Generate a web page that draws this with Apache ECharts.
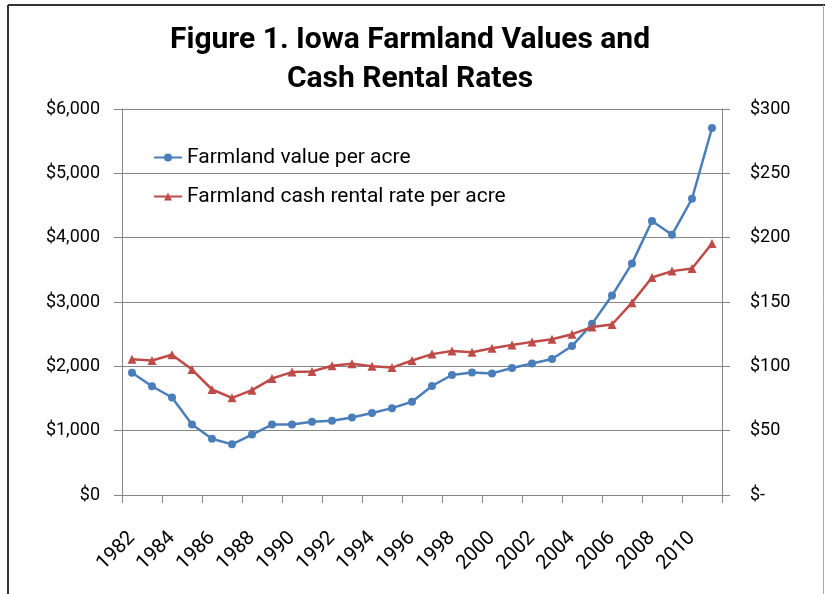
<!DOCTYPE html>
<html>
<head>
<meta charset="utf-8">
<script src="https://cdn.jsdelivr.net/npm/echarts@6/dist/echarts.min.js"></script>
<style>
  html, body { margin: 0; padding: 0; background: #fff; }
  #chart { width: 825px; height: 594px; }
</style>
</head>
<body>
<div id="chart"></div>
<script>
  // Iowa farmland values ($/acre) and cash rents ($/acre), 1982-2011
  const years = ['1982', '1983', '1984', '1985', '1986', '1987', '1988', '1989', '1990', '1991',
    '1992', '1993', '1994', '1995', '1996', '1997', '1998', '1999', '2000', '2001',
    '2002', '2003', '2004', '2005', '2006', '2007', '2008', '2009', '2010', '2011'];
  const landValue = [1900, 1690, 1515, 1095, 875, 787, 940, 1095, 1095, 1140,
    1155, 1205, 1275, 1350, 1450, 1695, 1865, 1905, 1890, 1975,
    2045, 2115, 2315, 2660, 3100, 3600, 4260, 4045, 4605, 5705];
  const cashRent = [105.5, 104.5, 109, 97.5, 82, 75.5, 81.5, 90.5, 95.5, 96,
    100.5, 102, 100, 99, 104.5, 109.5, 112, 111, 114, 116.5,
    119, 121, 125, 130.5, 132.5, 149.5, 169, 174, 176, 195.5];

  const FONT = "'Roboto', sans-serif";
  const AXIS = '#868686';
  const BLUE = '#4A7EBB';
  const RED = '#BE4B48';

  const chart = echarts.init(document.getElementById('chart'), null, { renderer: 'canvas' });
  chart.setOption({
    animation: false,
    backgroundColor: '#fff',
    title: {
      text: 'Figure 1. Iowa Farmland Values and\nCash Rental Rates',
      left: 405, top: 16, textAlign: 'center',
      textStyle: { fontFamily: FONT, fontSize: 30, fontWeight: 'bold', color: '#000', lineHeight: 39 }
    },
    legend: {
      orient: 'vertical', left: 148, top: 142, itemGap: 18,
      itemWidth: 28, itemHeight: 10,
      textStyle: { fontFamily: FONT, fontSize: 21, color: '#000' },
      data: ['Farmland value per acre', 'Farmland cash rental rate per acre']
    },
    graphic: [
      { type: 'line', shape: { x1: 8, y1: 5, x2: 825, y2: 5 }, style: { stroke: '#333', lineWidth: 2 } },
      { type: 'line', shape: { x1: 8, y1: 5, x2: 8, y2: 594 }, style: { stroke: '#333', lineWidth: 2 } },
      { type: 'line', shape: { x1: 823.5, y1: 5, x2: 823.5, y2: 594 }, style: { stroke: '#aaa', lineWidth: 1 } }
    ],
    grid: { left: 122, right: 103, top: 109, bottom: 99 },
    xAxis: {
      type: 'category', data: years, boundaryGap: true,
      axisLine: { lineStyle: { color: AXIS, width: 1 } },
      axisTick: { show: true, interval: 1, length: 8, lineStyle: { color: AXIS } },
      axisLabel: { interval: 1, rotate: 45, margin: 40, fontFamily: FONT, fontSize: 20, color: '#000' }
    },
    yAxis: [{
      type: 'value', min: 0, max: 6000, interval: 1000,
      axisLine: { show: true, lineStyle: { color: AXIS } },
      axisTick: { show: true, length: 8, lineStyle: { color: AXIS } },
      splitLine: { show: true, lineStyle: { color: AXIS, width: 1 } },
      axisLabel: { margin: 22, fontFamily: FONT, fontSize: 18, color: '#000',
        formatter: v => '$' + v.toLocaleString('en-US') }
    }, {
      type: 'value', min: 0, max: 300, interval: 50, position: 'right',
      axisLine: { show: true, lineStyle: { color: AXIS } },
      axisTick: { show: true, length: 8, lineStyle: { color: AXIS } },
      splitLine: { show: false },
      axisLabel: { margin: 28, align: 'left', fontFamily: FONT, fontSize: 18, color: '#000',
        formatter: v => v === 0 ? '$-' : '$' + v }
    }],
    series: [{
      name: 'Farmland value per acre', type: 'line', yAxisIndex: 0, data: landValue,
      symbol: 'circle', symbolSize: 8, color: BLUE,
      lineStyle: { color: BLUE, width: 2.5 }, itemStyle: { color: BLUE }
    }, {
      name: 'Farmland cash rental rate per acre', type: 'line', yAxisIndex: 1, data: cashRent,
      symbol: 'triangle', symbolSize: 9, color: RED,
      lineStyle: { color: RED, width: 2.5 }, itemStyle: { color: RED }
    }]
  });
</script>
</body>
</html>
